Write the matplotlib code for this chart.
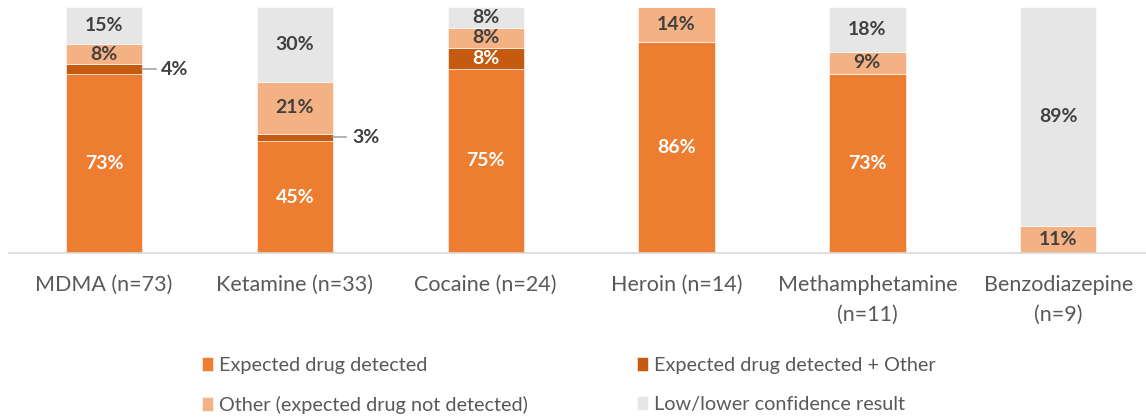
import numpy as np
import matplotlib.pyplot as plt

categories = ["MDMA (n=73)", "Ketamine (n=33)", "Cocaine (n=24)", "Heroin (n=14)",
              "Methamphetamine\n(n=11)", "Benzodiazepine\n(n=9)"]
n_total = [73, 33, 24, 14, 11, 9]
expected = [53, 15, 18, 12, 8, 0]
expected_other = [3, 1, 2, 0, 0, 0]
other = [6, 7, 2, 2, 1, 1]
low_conf = [11, 10, 2, 0, 2, 8]

series_names = ["Expected drug detected", "Expected drug detected + Other",
                "Other (expected drug not detected)", "Low/lower confidence result"]
colors = ["#ED7D31", "#C55A11", "#F4B183", "#E7E6E6"]
label_colors = ["white", "white", "#404040", "#404040"]

FONT = "Lato"
plt.rcParams["font.family"] = [FONT, "DejaVu Sans"]

fig = plt.figure(figsize=(11.46, 4.18), dpi=100)
W, H = 1146, 418
ax = fig.add_axes([8.6 / W, (H - 253) / H, 1145 / W, 246 / H])

x = np.arange(len(categories))
n = np.array(n_total, dtype=float)
series = [np.array(s) / n * 100 for s in (expected, expected_other, other, low_conf)]

bottom = np.zeros(len(categories))
handles = []
for vals, col, lc, name in zip(series, colors, label_colors, series_names):
    bars = ax.bar(x, vals, 0.4, bottom=bottom, color=col, label=name,
                  edgecolor="white", linewidth=0.4)
    handles.append(bars)
    for i, v in enumerate(vals):
        if v <= 0:
            continue
        mid = bottom[i] + v / 2
        txt = f"{round(v):.0f}%"
        if v < 5:
            # small segment: label outside with leader line
            ax.plot([x[i] + 0.2, x[i] + 0.27], [mid, mid], color="#A6A6A6", lw=1.2)
            ax.text(x[i] + 0.3, mid, txt, ha="left", va="center", color="#404040",
                    fontsize=14, fontweight="bold")
        else:
            ax.text(x[i], mid, txt, ha="center", va="center", color=lc,
                    fontsize=14, fontweight="bold")
    bottom += vals

ax.set_xlim(-0.5, len(categories) - 0.5)
ax.set_ylim(0, 100)
ax.set_xticks(x)
ax.set_xticklabels(categories, fontsize=15.5, color="#595959", linespacing=1.6)
ax.tick_params(axis="x", length=0, pad=16)
ax.set_yticks([])
for s in ["top", "left", "right"]:
    ax.spines[s].set_visible(False)
ax.spines["bottom"].set_color("#D9D9D9")
ax.spines["bottom"].set_linewidth(1.2)

# legend order: column 1 = Expected, Other; column 2 = Expected+Other, Low
order = [0, 2, 1, 3]
fig.legend([handles[i] for i in order], [series_names[i] for i in order],
           ncol=2, loc="upper left", bbox_to_anchor=(184 / W, (H - 339) / H),
           frameon=False, fontsize=14.3, labelcolor="#595959",
           handlelength=0.55, handleheight=0.7, handletextpad=0.3,
           columnspacing=5.5, labelspacing=1.1)

fig.savefig("out.png", dpi=100)
